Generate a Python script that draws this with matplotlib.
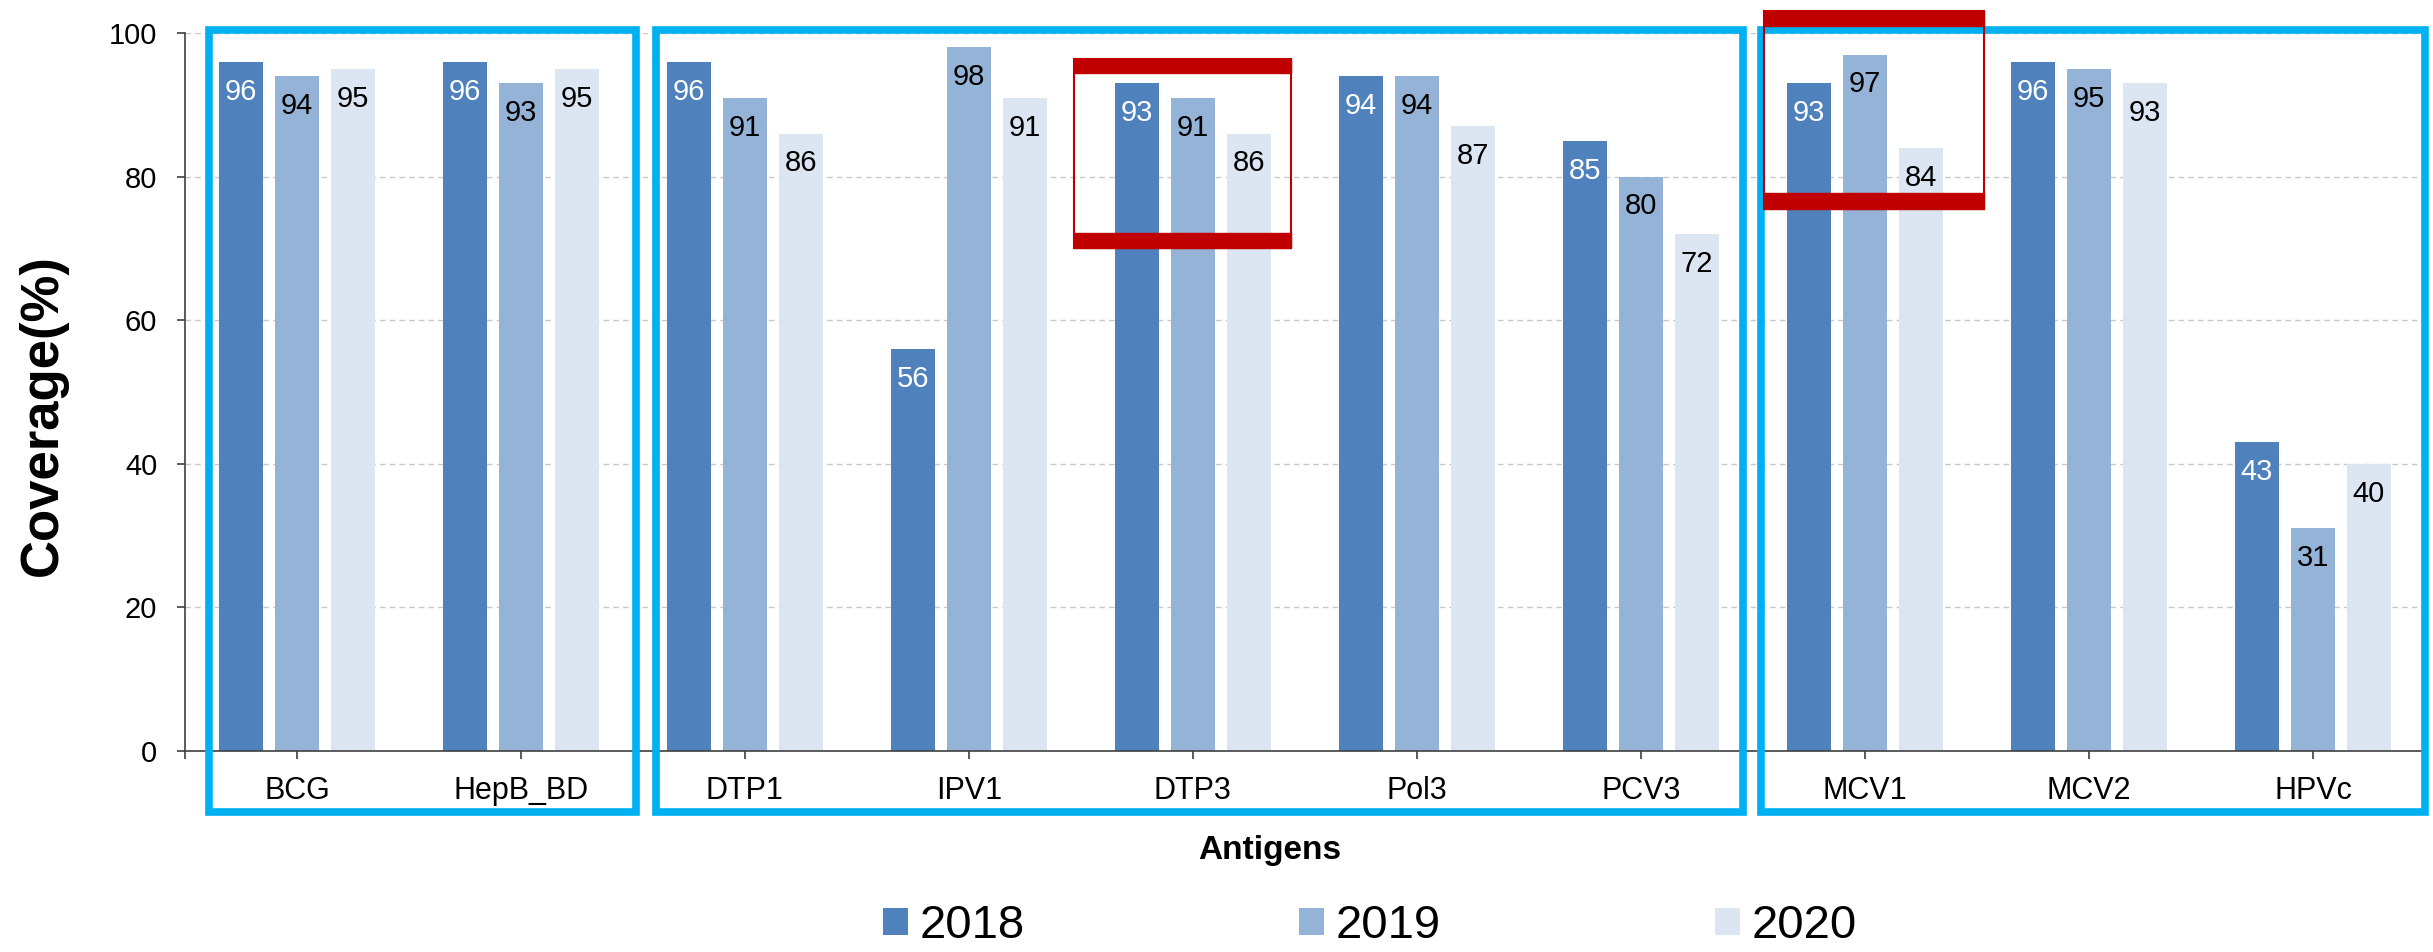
import numpy as np
import matplotlib
matplotlib.use('Agg')
import matplotlib.pyplot as plt
from matplotlib.patches import Rectangle

plt.rcParams['font.family'] = ['Liberation Sans', 'DejaVu Sans']

# data
antigens = ['BCG', 'HepB_BD', 'DTP1', 'IPV1', 'DTP3', 'Pol3', 'PCV3', 'MCV1', 'MCV2', 'HPVc']
years = ['2018', '2019', '2020']
cov_2018 = [96, 96, 96, 56, 93, 94, 85, 93, 96, 43]
cov_2019 = [94, 93, 91, 98, 91, 94, 80, 97, 95, 31]
cov_2020 = [95, 95, 86, 91, 86, 87, 72, 84, 93, 40]

colors = ['#4F81BD', '#95B3D7', '#DCE6F2']
label_colors = ['white', 'black', 'black']

fig = plt.figure(figsize=(24.33, 9.52), dpi=100)
ax = fig.add_axes([0.0760, 0.2111, 0.9207, 0.7542])

x = np.arange(len(antigens))
width = 0.195
offsets = [-0.25, 0, 0.25]

for vals, off, col, lc, yr in zip([cov_2018, cov_2019, cov_2020], offsets, colors, label_colors, years):
    bars = ax.bar(x + off, vals, width, color=col, label=yr, zorder=2)
    for b, v in zip(bars, vals):
        ax.annotate(str(v), xy=(b.get_x() + b.get_width() / 2, v), xytext=(0, -21.5),
                    textcoords='offset points', ha='center', va='center',
                    fontsize=21, color=lc, zorder=3)

ax.set_xlim(-0.5, 9.5)
ax.set_ylim(0, 100)
ax.set_yticks([0, 20, 40, 60, 80, 100])
ax.set_xticks(x)
ax.set_xticklabels(antigens)
ax.set_xticks([-0.5, 9.5], minor=True)
ax.tick_params(axis='y', labelsize=21, length=6, width=1.2, pad=14, color='#404040')
ax.tick_params(axis='x', which='both', labelsize=22, length=6, width=1.2, pad=12, color='#404040')
ax.grid(axis='y', color='#C8C8C8', linestyle=(0, (4, 3)), linewidth=1.0, zorder=0)
ax.set_axisbelow(True)
for s in ['top', 'right']:
    ax.spines[s].set_visible(False)
for s in ['left', 'bottom']:
    ax.spines[s].set_color('#404040')
    ax.spines[s].set_linewidth(1.2)

fig.text(0.0177, 0.564, 'Coverage(%)', rotation=90, ha='center', va='center',
         fontsize=38, fontweight='bold')
fig.text(0.522, 0.107, 'Antigens', ha='center', va='center', fontsize=24, fontweight='bold')

# blue group boxes
blue_boxes = [(-0.393, 1.513), (1.603, 6.455), (6.536, 9.5)]
for x0, x1 in blue_boxes:
    ax.add_patch(Rectangle((x0, -8.5), x1 - x0, 108.9, fill=False, edgecolor='#00B0F0',
                           linewidth=5.5, clip_on=False, zorder=5))

# red highlight boxes: thin frame with thick top and bottom bands
red_boxes = [(3.47, 4.44, 70.0, 72.1, 94.4, 96.4), (6.55, 7.53, 75.5, 77.7, 101.0, 103.1)]
for x0, x1, b0, b1, t0, t1 in red_boxes:
    ax.add_patch(Rectangle((x0, b0), x1 - x0, t1 - b0, fill=False, edgecolor='#C00000',
                           linewidth=1.5, clip_on=False, zorder=6))
    ax.add_patch(Rectangle((x0, b0), x1 - x0, b1 - b0, color='#C00000', clip_on=False, zorder=6))
    ax.add_patch(Rectangle((x0, t0), x1 - x0, t1 - t0, color='#C00000', clip_on=False, zorder=6))

fig.legend(loc='center', bbox_to_anchor=(0.563, 0.027), ncol=3, frameon=False, fontsize=34,
           handlelength=0.53, handleheight=0.53, handletextpad=0.25, columnspacing=5.8)

fig.savefig('out.png', dpi=100)
